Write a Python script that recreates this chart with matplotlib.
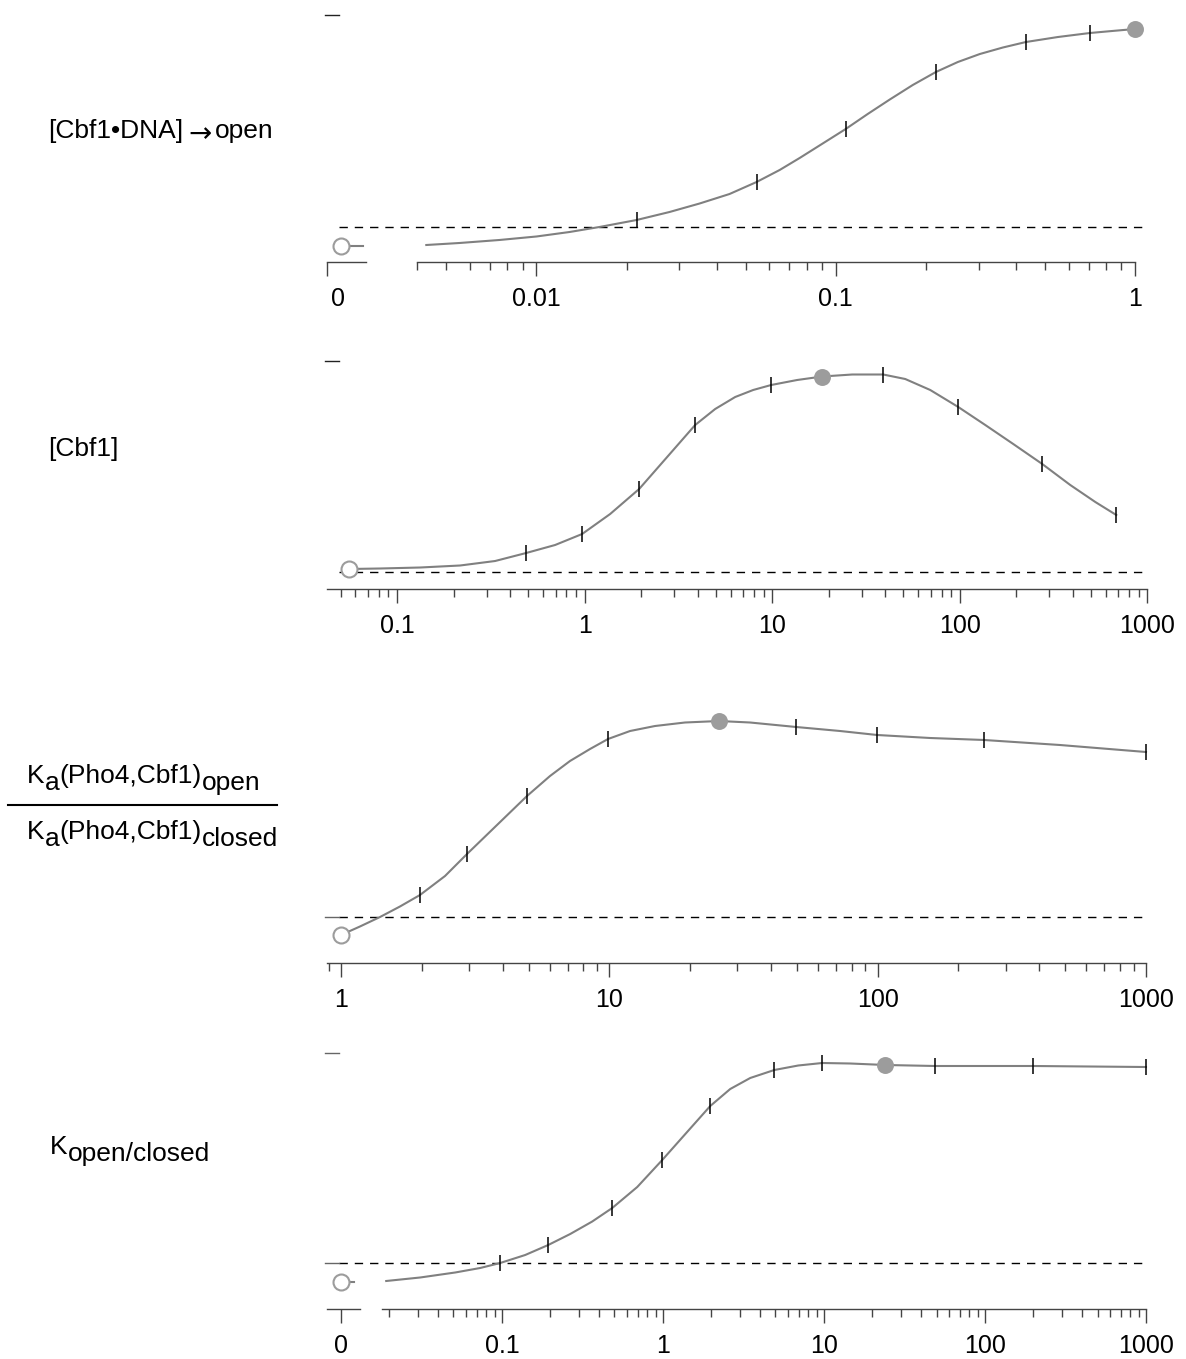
import matplotlib
matplotlib.use("Agg")
import matplotlib.pyplot as plt
import matplotlib.transforms as mtransforms
from matplotlib.ticker import LogLocator, NullFormatter, FixedLocator, FixedFormatter

# ── values (y normalised: dashed line = 0, top y-tick = 1) ──
# panel 1: [Cbf1•DNA]→open
P1_X = [0.004286, 0.005527, 0.007519, 0.01, 0.01290, 0.01624, 0.02161, 0.02785,
        0.03509, 0.04419, 0.05441, 0.06497, 0.07578, 0.09048, 0.1080, 0.1279,
        0.1516, 0.1809, 0.2161, 0.2559, 0.3031, 0.3619, 0.4320, 0.5527, 0.7070,
        0.8379, 1.0]
P1_Y = [-0.0849, -0.0755, -0.0613, -0.0448, -0.0236, 0.0, 0.0330, 0.0708,
        0.1108, 0.1557, 0.2123, 0.2689, 0.3255, 0.3939, 0.4623, 0.5330,
        0.6014, 0.6698, 0.7311, 0.7783, 0.8160, 0.8467, 0.8726, 0.8962, 0.9151,
        0.9245, 0.9340]
P1_MARK_X = [0.02161, 0.05441, 0.1080, 0.2161, 0.4320, 0.7070]
P1_MARK_Y = [0.0330, 0.2123, 0.4623, 0.7311, 0.8726, 0.9151]
P1_BEST = (1.0, 0.934)
P1_ZERO = -0.09
P1_TICKS = [0.01, 0.1, 1]
P1_LABELS = ["0.01", "0.1", "1"]

# panel 2: [Cbf1]
P2_X = [0.05546, 0.08116, 0.1327, 0.2168, 0.3332, 0.4875, 0.6961, 0.9698, 1.368,
        1.953, 2.754, 3.884, 4.966, 6.350, 7.918, 9.879, 13.59, 18.48, 26.71,
        39.08, 51.20, 69.61, 98.17, 136.8, 192.9, 275.4, 388.4, 528.1, 683.5]
P2_Y = [0.0142, 0.0166, 0.0213, 0.0308, 0.0521, 0.0900, 0.1280, 0.1801, 0.2749,
        0.3934, 0.5450, 0.6967, 0.7725, 0.8294, 0.8626, 0.8863, 0.9100, 0.9265, 0.9360,
        0.9360, 0.9147, 0.8626, 0.7820, 0.6967, 0.6066, 0.5118, 0.4123, 0.3318, 0.2701]
P2_MARK_X = [0.4875, 0.9698, 1.953, 3.884, 9.879, 39.08, 98.17, 275.4, 683.5]
P2_MARK_Y = [0.0900, 0.1801, 0.3934, 0.6967, 0.8863, 0.9360, 0.7820, 0.5118, 0.2701]
P2_BEST = (18.48, 0.9265)
P2_START = (0.05546, 0.0142)
P2_TICKS = [0.1, 1, 10, 100, 1000]
P2_LABELS = ["0.1", "1", "10", "100", "1000"]

# panel 3: Ka(open) / Ka(closed)
P3_X = [1.0, 1.177, 1.398, 1.659, 1.970, 2.442, 2.949, 3.815, 4.935, 6.012, 7.137,
        8.475, 9.889, 11.95, 14.80, 19.15, 25.63, 33.45, 49.65, 72.43, 99.49,
        156.8, 249.2, 478.5, 1000]
P3_Y = [-0.0857, -0.0452, 0.0, 0.0500, 0.1048, 0.1952, 0.3000, 0.4381, 0.5762,
        0.6714, 0.7429, 0.8000, 0.8476, 0.8857, 0.9095, 0.9262, 0.9333, 0.9262,
        0.9048, 0.8857, 0.8667, 0.8524, 0.8429, 0.8190, 0.7857]
P3_MARK_X = [1.0, 1.970, 2.949, 4.935, 9.889, 49.65, 99.49, 249.2, 1000]
P3_MARK_Y = [-0.0857, 0.1048, 0.3000, 0.5762, 0.8476, 0.9048, 0.8667, 0.8429, 0.7857]
P3_BEST = (25.63, 0.9333)
P3_START = (1.0, -0.0857)
P3_TICKS = [1, 10, 100, 1000]
P3_LABELS = ["1", "10", "100", "1000"]

# panel 4: K open/closed
P4_X = [0.01912, 0.03109, 0.05128, 0.07332, 0.09759, 0.1395, 0.1939, 0.2656,
        0.3639, 0.4843, 0.6926, 0.9902, 1.395, 1.967, 2.618, 3.485, 4.914, 6.924,
        9.759, 14.57, 24.02, 49.14, 199.5, 1000]
P4_Y = [-0.0857, -0.0690, -0.0452, -0.0238, 0.0, 0.0381, 0.0857, 0.1381,
        0.1976, 0.2619, 0.3619, 0.4905, 0.6190, 0.7476, 0.8286, 0.8810, 0.9190, 0.9405,
        0.9524, 0.9500, 0.9429, 0.9381, 0.9381, 0.9333]
P4_MARK_X = [0.09759, 0.1939, 0.4843, 0.9902, 1.967, 4.914, 9.759, 49.14, 199.5, 1000]
P4_MARK_Y = [0.0, 0.0857, 0.2619, 0.4905, 0.7476, 0.9190, 0.9524, 0.9381, 0.9381, 0.9333]
P4_BEST = (24.02, 0.9429)
P4_ZERO = -0.09
P4_TICKS = [0.1, 1, 10, 100, 1000]
P4_LABELS = ["0.1", "1", "10", "100", "1000"]

plt.rcParams["font.family"] = ["Liberation Sans", "DejaVu Sans"]
plt.rcParams["lines.scale_dashes"] = False

W, H = 1186, 1359
CURVE = "#808080"
DOT = "#9c9c9c"
AXIS = "#444444"
TICK_FS = 18
LABEL_FS = 19

fig = plt.figure(figsize=(W / 100, H / 100), dpi=100)

# full-figure axes in pixel units, for the row labels
lab = fig.add_axes([0, 0, 1, 1])
lab.set_xlim(0, W)
lab.set_ylim(H, 0)
lab.axis("off")


def rect(x0, x1, top, spine):
    return [x0 / W, 1 - spine / H, (x1 - x0) / W, (spine - top) / H]


def bare(ax):
    for s in ("left", "right", "top"):
        ax.spines[s].set_visible(False)
    ax.spines["bottom"].set_color(AXIS)
    ax.spines["bottom"].set_linewidth(1.0)
    ax.set_yticks([])
    ax.patch.set_visible(False)
    ax.tick_params(axis="x", which="major", length=10, width=1, color=AXIS,
                   pad=8, labelsize=TICK_FS)
    ax.tick_params(axis="x", which="minor", length=5.5, width=1, color=AXIS)


def hline(ax, y, x0, x1, **kw):
    tr = mtransforms.blended_transform_factory(fig.transFigure, ax.transData)
    ax.plot([x0 / W, x1 / W], [y, y], transform=tr, clip_on=False, **kw)


def open_dot(ax, x, y):
    ax.plot([x], [y], ls="none", marker="o", ms=11.5, mfc="white", mec=DOT,
            mew=1.5, zorder=4, clip_on=False)


def panel(x0, x1, top, spine, base, unit, xlim, ticks, labels,
          cx, cy, mx, my, best, ytick_top, ytick_bot, ytick_color):
    ax = fig.add_axes(rect(x0, x1, top, spine))
    ax.set_xscale("log")
    ax.set_xlim(*xlim)
    ax.set_ylim((base - spine) / unit, (base - top) / unit)
    bare(ax)
    ax.set_xticks(ticks)
    ax.set_xticklabels(labels)
    ax.xaxis.set_minor_locator(LogLocator(base=10, subs=range(2, 10), numticks=60))
    ax.xaxis.set_minor_formatter(NullFormatter())

    ax.plot(cx, cy, color=CURVE, lw=1.5, zorder=2, clip_on=False,
            solid_joinstyle="round")
    ax.plot(mx, my, ls="none", marker="|", ms=11.5, mew=1.1, color="black",
            zorder=3, clip_on=False)
    ax.plot([best[0]], [best[1]], ls="none", marker="o", ms=12.2, color=DOT,
            mec="none", zorder=4, clip_on=False)

    hline(ax, 0, 339, 1148, color="black", lw=1.0, dashes=(6, 5), zorder=1)
    if ytick_top:
        hline(ax, 1, 325, 339, color=ytick_color, lw=1.0)
    if ytick_bot:
        hline(ax, 0, 325, 339, color=ytick_color, lw=1.0)
    return ax


def zero_axis(main, x0, x1, top, spine, xlim, tick_at, label_at, stub, y0):
    ax = fig.add_axes(rect(x0, x1, top, spine), sharey=main)
    ax.set_xlim(*xlim)
    bare(ax)
    ax.set_xticks([tick_at])
    if label_at == tick_at:
        ax.set_xticklabels(["0"])
    else:
        ax.set_xticklabels([""])
        ax.xaxis.set_minor_locator(FixedLocator([label_at]))
        ax.xaxis.set_minor_formatter(FixedFormatter(["0"]))
        ax.tick_params(axis="x", which="minor", length=0, pad=18, labelsize=TICK_FS)
    ax.plot([0, stub], [y0, y0], color=CURVE, lw=1.5, zorder=2, clip_on=False)
    open_dot(ax, 0, y0)
    return ax


# panel 1
a1 = panel(417, 1135, 10, 262, 227, 212, (0.00399, 1.0), P1_TICKS, P1_LABELS,
           P1_X, P1_Y, P1_MARK_X, P1_MARK_Y, P1_BEST, True, False, "#222222")
zero_axis(a1, 327, 365.7, 10, 262, (-14, 24.7), -14, -3, 22, P1_ZERO)

# panel 2
a2 = panel(327, 1147.3, 355, 589, 572, 211, (0.0423, 1000), P2_TICKS, P2_LABELS,
           P2_X, P2_Y, P2_MARK_X, P2_MARK_Y, P2_BEST, True, False, "#222222")
open_dot(a2, *P2_START)

# panel 3
a3 = panel(327, 1146, 700, 963, 917, 210, (0.887, 1000), P3_TICKS, P3_LABELS,
           P3_X, P3_Y, P3_MARK_X, P3_MARK_Y, P3_BEST, False, True, "#666666")
open_dot(a3, *P3_START)

# panel 4
a4 = panel(382, 1146, 1045, 1309, 1263, 210, (0.018, 1000), P4_TICKS, P4_LABELS,
           P4_X, P4_Y, P4_MARK_X, P4_MARK_Y, P4_BEST, True, True, "#666666")
zero_axis(a4, 327, 360, 1045, 1309, (-14, 19), 0, 0, 13, P4_ZERO)


# ── row labels: pieces chained left to right, subscripts dropped a few px ──
def rich(x, y, parts):
    prev = None
    prev_dy = 0
    for text, dx, dy, size, fam in parts:
        kw = dict(fontsize=size, ha="left")
        if fam:
            kw["family"] = fam
        if prev is None:
            prev = lab.text(x, y + dy, text, va="baseline", **kw)
        else:
            prev = lab.annotate(text, xy=(1, 0), xycoords=prev,
                                xytext=(dx * 0.72, -(dy - prev_dy) * 0.72),
                                textcoords="offset points", va="bottom", **kw)
        prev_dy = dy


F = LABEL_FS
rich(48, 138, [("[Cbf1•DNA]", 0, 0, F, None), ("\u2192", 5, 5, 20, "DejaVu Sans"),
               ("open", 3, 0, F, None)])
rich(48, 456, [("[Cbf1]", 0, 0, F, None)])
rich(27, 783, [("K", 0, 0, F, None), ("a", 0, 7, F, None),
               ("(Pho4,Cbf1)", 0, 0, F, None), ("open", 0, 7, F, None)])
rich(27, 839, [("K", 0, 0, F, None), ("a", 0, 7, F, None),
               ("(Pho4,Cbf1)", 0, 0, F, None), ("closed", 0, 7, F, None)])
lab.plot([8, 277], [805, 805], color="black", lw=1.5)
rich(50, 1154, [("K", 0, 0, F, None), ("open/closed", 0, 7, F, None)])

fig.savefig("out.png", dpi=100)
